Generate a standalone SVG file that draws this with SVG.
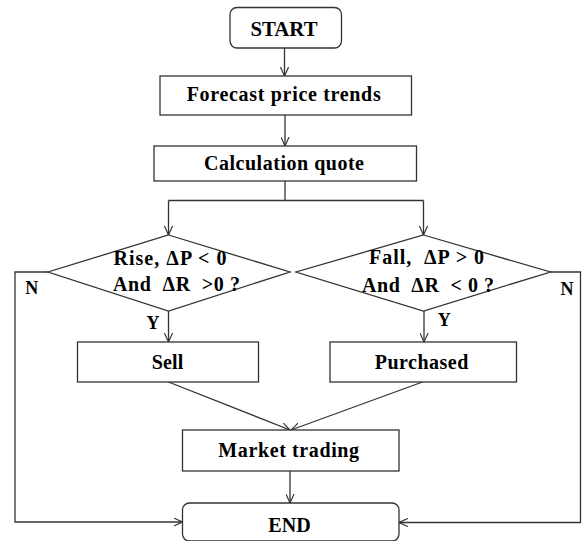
<svg xmlns="http://www.w3.org/2000/svg" width="584" height="541" viewBox="0 0 584 541">
<style>
.box{fill:#fff;stroke:#333;stroke-width:1.3}
.t{font-family:"Liberation Serif","Times New Roman",serif;font-weight:bold;font-size:20px;fill:#000;text-anchor:middle}
.lbl{font-size:18px}
.c{fill:none;stroke:#333;stroke-width:1.3}
</style>
<defs>
<marker id="arr" viewBox="0 0 10 10" refX="10" refY="5" markerWidth="9" markerHeight="9" markerUnits="userSpaceOnUse" orient="auto">
<path d="M0,0.5 L10,5 L0,9.5" fill="none" stroke="#333" stroke-width="1.3"/>
</marker>
</defs>
<rect width="584" height="541" fill="#fff"/>
<g id="connectors">
<path class="c" d="M284.5,48 V76" marker-end="url(#arr)"/>
<path class="c" d="M285,115 V146" marker-end="url(#arr)"/>
<path class="c" d="M285,181 V200.5 M168.5,200.5 H423.5"/>
<path class="c" d="M168.5,200.5 V235" marker-end="url(#arr)"/>
<path class="c" d="M423.5,200.5 V235" marker-end="url(#arr)"/>
<path class="c" d="M168.5,311 V342" marker-end="url(#arr)"/>
<path class="c" d="M424,311 V342" marker-end="url(#arr)"/>
<path class="c" d="M168.5,382 L290,430" marker-end="url(#arr)"/>
<path class="c" d="M422.5,382 L291,430" marker-end="url(#arr)"/>
<path class="c" d="M290,471 V503" marker-end="url(#arr)"/>
<path class="c" d="M48,272 H15 V522 H182.5" marker-end="url(#arr)"/>
<path class="c" d="M550.5,272 H580.5 V522.5 H399" marker-end="url(#arr)"/>
</g>
<g id="start">
<rect class="box" x="230" y="7.5" width="111.5" height="40.5" rx="7"/>
<text class="t" x="284" y="36" textLength="67" lengthAdjust="spacingAndGlyphs">START</text>
</g>
<g id="forecast">
<rect class="box" x="160" y="76" width="251.5" height="39"/>
<text class="t" x="283.7" y="100.5" textLength="194" lengthAdjust="spacing">Forecast price trends</text>
</g>
<g id="calc">
<rect class="box" x="154" y="146" width="262.5" height="35"/>
<text class="t" x="284" y="169.5" textLength="160" lengthAdjust="spacing">Calculation quote</text>
</g>
<g id="rise">
<polygon class="box" points="168.5,235 290,272 168.5,311 48,272"/>
<text class="t" x="170" y="265" textLength="113" lengthAdjust="spacing" xml:space="preserve">Rise, ΔP &lt; 0</text>
<text class="t" x="176.5" y="290.5" textLength="127" lengthAdjust="spacing" xml:space="preserve">And  ΔR  &gt;0 ?</text>
</g>
<g id="fall">
<polygon class="box" points="423.5,235 550.5,272 423.5,311 296,272"/>
<text class="t" x="426.5" y="263.5" textLength="115" lengthAdjust="spacing" xml:space="preserve">Fall,  ΔP &gt; 0</text>
<text class="t" x="428" y="291.5" textLength="132" lengthAdjust="spacing" xml:space="preserve">And  ΔR  &lt; 0 ?</text>
</g>
<g id="sell">
<rect class="box" x="77.5" y="342" width="181" height="40"/>
<text class="t" x="167.5" y="368.5" textLength="31.6" lengthAdjust="spacing">Sell</text>
</g>
<g id="purchased">
<rect class="box" x="330" y="342" width="186.5" height="40"/>
<text class="t" x="421.5" y="368.5" textLength="93.6" lengthAdjust="spacing">Purchased</text>
</g>
<g id="market">
<rect class="box" x="182.5" y="430" width="216.5" height="41"/>
<text class="t" x="288.7" y="456.5" textLength="140.7" lengthAdjust="spacing">Market trading</text>
</g>
<g id="end">
<rect class="box" x="182.5" y="503" width="216.5" height="38" rx="7"/>
<text class="t" x="289.5" y="531.5" textLength="42.4" lengthAdjust="spacingAndGlyphs">END</text>
</g>
<g id="labels">
<text class="t lbl" x="31.7" y="294">N</text>
<text class="t lbl" x="567" y="295">N</text>
<text class="t lbl" x="153" y="329">Y</text>
<text class="t lbl" x="444.3" y="326">Y</text>
</g>
</svg>
